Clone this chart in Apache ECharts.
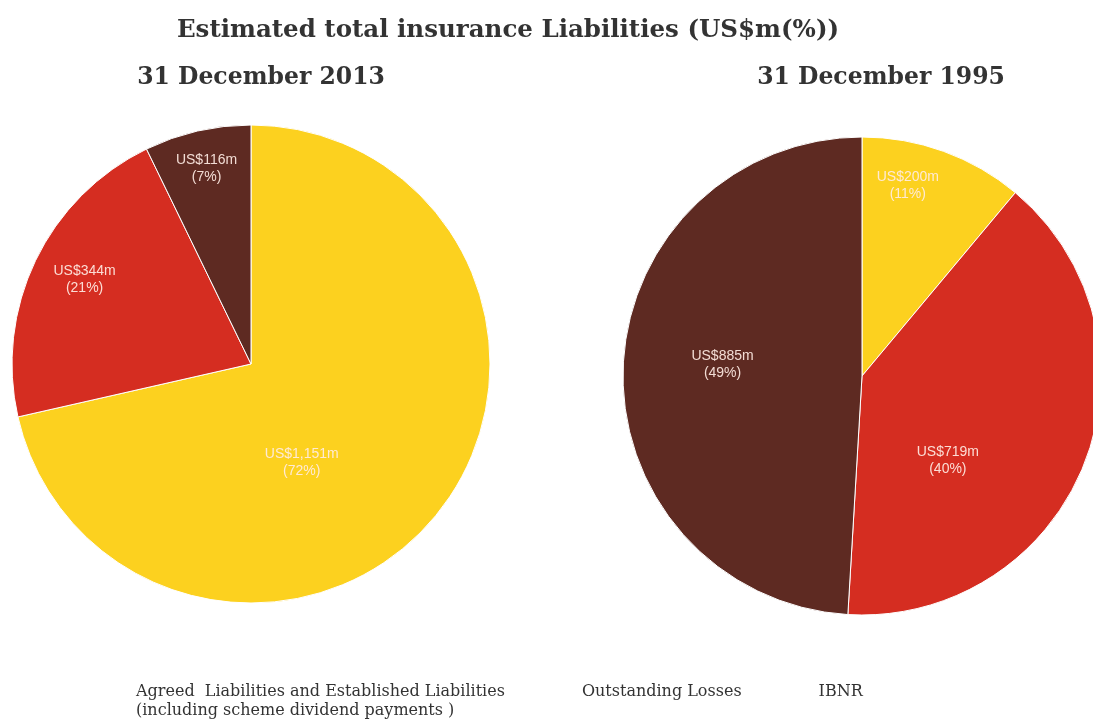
<!DOCTYPE html>
<html>
<head>
<meta charset="utf-8">
<script src="https://cdn.jsdelivr.net/npm/echarts@6/dist/echarts.min.js"></script>
<style>
html,body{margin:0;padding:0;background:#fff;}
#chart{width:1093px;height:723px;}
</style>
</head>
<body>
<div id="chart"></div>
<script>
// ---- Data ----
const categories = [
  'Agreed  Liabilities and Established Liabilities\n(including scheme dividend payments )',
  'Outstanding Losses',
  'IBNR'
];
const values2013 = [1151, 344, 116];
const percent2013 = [72, 21, 7];
const values1995 = [200, 719, 885];
const percent1995 = [11, 40, 49];
const mainTitle = 'Estimated total insurance Liabilities (US$m(%))';
const subTitles = ['31 December 2013', '31 December 1995'];

// ---- Style ----
const colors = ['#FCD11F', '#D52D21', '#5E2A22'];
const serif = '"DejaVu Serif", "Liberation Serif", serif';
const sans = '"Liberation Sans", Arial, sans-serif';
// label shifts from the default 'inside' position (style only)
const shift2013 = [[-45, 22], [-56, -31], [-17, -76]];
const shift1995 = [[4, -75], [-28, 39], [-17, -8]];

function fmtMoney(v) {
  return 'US$' + v.toLocaleString('en-US') + 'm';
}

function makeData(values, pcts) {
  return values.map((v, i) => ({ name: categories[i], value: v, pct: pcts[i] }));
}

function pieSeries(values, pcts, center, shifts) {
  return {
    type: 'pie',
    center: center,
    radius: [0, 239],
    startAngle: 90,
    clockwise: true,
    avoidLabelOverlap: false,
    silent: true,
    itemStyle: { borderColor: '#ffffff', borderWidth: 1 },
    label: {
      show: true,
      position: 'inside',
      fontFamily: sans,
      fontSize: 14,
      lineHeight: 17,
      color: 'rgba(255,236,228,0.92)',
      formatter: p => fmtMoney(p.value) + '\n(' + p.data.pct + '%)'
    },
    labelLine: { show: false },
    labelLayout: p => ({ dx: shifts[p.dataIndex][0], dy: shifts[p.dataIndex][1] }),
    data: makeData(values, pcts)
  };
}

const chart = echarts.init(document.getElementById('chart'), null, { renderer: 'canvas' });
chart.setOption({
  backgroundColor: '#ffffff',
  animation: false,
  color: colors,
  title: [
    { text: mainTitle, left: 503, top: 13, textAlign: 'center',
      textStyle: { fontFamily: serif, fontWeight: 'bold', fontSize: 24.5, color: '#333333' } },
    { text: subTitles[0], left: 256, top: 61, textAlign: 'center',
      textStyle: { fontFamily: serif, fontWeight: 'bold', fontSize: 23.5, color: '#333333' } },
    { text: subTitles[1], left: 876, top: 61, textAlign: 'center',
      textStyle: { fontFamily: serif, fontWeight: 'bold', fontSize: 23.5, color: '#333333' } }
  ],
  legend: {
    data: categories,
    left: 126,
    top: 677,
    icon: 'none',
    itemWidth: 0,
    itemHeight: 0,
    itemGap: 72,
    selectedMode: false,
    formatter: n => n.indexOf('\n') >= 0 ? n : n + '\n ',
    textStyle: { fontFamily: serif, fontSize: 16, lineHeight: 19, color: '#333333', padding: 0 }
  },
  series: [
    pieSeries(values2013, percent2013, [251, 364], shift2013),
    pieSeries(values1995, percent1995, [862, 376], shift1995)
  ]
});
</script>
</body>
</html>
